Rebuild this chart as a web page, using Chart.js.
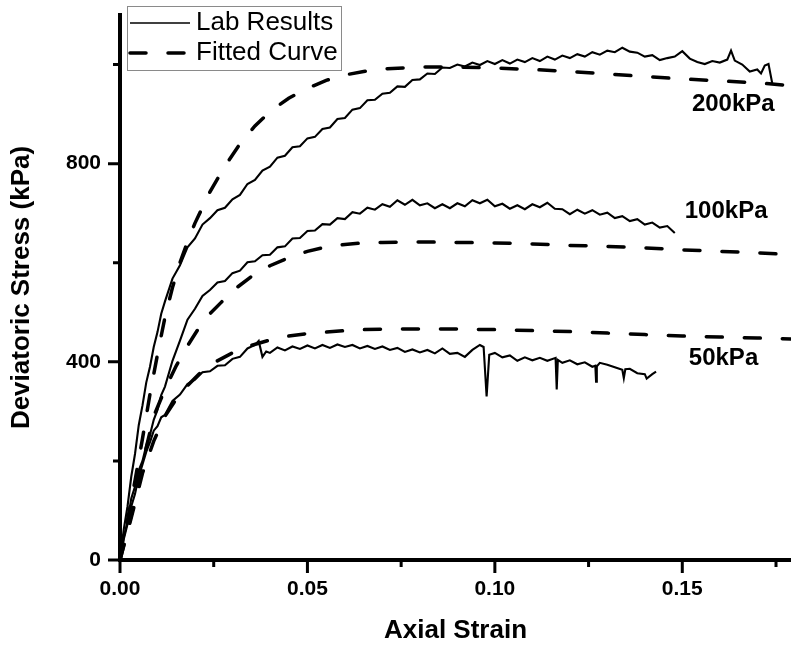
<!DOCTYPE html>
<html lang="en">
<head>
<meta charset="UTF-8">
<title>Deviatoric Stress vs Axial Strain</title>
<script src="https://cdn.jsdelivr.net/npm/chart.js"></script>
<style>
  html, body { margin: 0; padding: 0; background: #fff; }
  #wrap { width: 791px; height: 650px; }
</style>
</head>
<body>
<div id="wrap"><canvas id="chart" width="791" height="650"></canvas></div>
<script>
  // lab results, [axial strain, deviatoric stress kPa]
  const lab200 = [[0,0],[0.001,62],[0.002,108],[0.003,168],[0.004,214],[0.005,272],[0.006,312],[0.007,358],[0.008,390],[0.009,430],[0.010,460],[0.011,497],[0.012,522],[0.014,568],[0.016,595],[0.018,631],[0.020,649],[0.022,677],[0.024,690],[0.026,706],[0.028,711],[0.030,728],[0.032,737],[0.034,759],[0.036,767],[0.038,786],[0.040,794],[0.042,812],[0.044,816],[0.046,833],[0.048,835],[0.050,851],[0.052,854],[0.054,870],[0.056,873],[0.058,890],[0.060,892],[0.062,909],[0.064,912],[0.066,928],[0.068,929],[0.070,941],[0.072,943],[0.074,956],[0.076,955],[0.078,969],[0.080,970],[0.082,982],[0.084,981],[0.086,994],[0.088,993],[0.090,1000],[0.092,996],[0.094,1004],[0.096,999],[0.098,1007],[0.100,1001],[0.102,1009],[0.104,1002],[0.106,1010],[0.108,1005],[0.110,1013],[0.112,1007],[0.114,1016],[0.116,1010],[0.118,1018],[0.120,1013],[0.122,1021],[0.124,1016],[0.126,1025],[0.128,1020],[0.130,1028],[0.132,1025],[0.134,1034],[0.136,1026],[0.138,1024],[0.140,1016],[0.142,1019],[0.144,1009],[0.146,1013],[0.148,1016],[0.150,1027],[0.152,1012],[0.154,1005],[0.156,1001],[0.158,1007],[0.160,1004],[0.162,1010],[0.163,1028],[0.164,1008],[0.166,1000],[0.168,986],[0.170,990],[0.171,982],[0.172,998],[0.173,1001],[0.174,962]];
  const lab100 = [[0,0],[0.001,45],[0.002,78],[0.003,124],[0.004,148],[0.005,181],[0.006,200],[0.007,231],[0.008,253],[0.009,283],[0.010,303],[0.011,333],[0.012,350],[0.014,402],[0.016,443],[0.018,485],[0.020,507],[0.022,533],[0.024,545],[0.026,560],[0.028,563],[0.030,579],[0.032,584],[0.034,601],[0.036,603],[0.038,615],[0.040,616],[0.042,631],[0.044,633],[0.046,649],[0.048,650],[0.050,664],[0.052,665],[0.054,678],[0.056,677],[0.058,690],[0.060,688],[0.062,702],[0.064,699],[0.066,711],[0.068,707],[0.070,718],[0.072,713],[0.074,726],[0.076,717],[0.078,727],[0.080,716],[0.082,720],[0.084,710],[0.086,718],[0.088,710],[0.090,720],[0.092,714],[0.094,726],[0.096,720],[0.098,727],[0.100,714],[0.102,719],[0.104,709],[0.106,716],[0.108,708],[0.110,718],[0.112,712],[0.114,721],[0.116,709],[0.118,708],[0.120,698],[0.122,707],[0.124,699],[0.126,706],[0.128,697],[0.130,701],[0.132,690],[0.134,694],[0.136,684],[0.138,688],[0.140,677],[0.142,681],[0.144,671],[0.146,674],[0.148,660]];
  const lab50 = [[0,0],[0.001,42],[0.002,72],[0.003,108],[0.004,133],[0.005,168],[0.006,193],[0.007,218],[0.008,238],[0.009,261],[0.010,270],[0.011,288],[0.012,293],[0.014,321],[0.016,334],[0.018,355],[0.020,364],[0.022,379],[0.024,381],[0.026,392],[0.028,393],[0.030,406],[0.032,410],[0.034,427],[0.036,434],[0.037,442],[0.038,410],[0.039,421],[0.040,418],[0.042,429],[0.044,423],[0.046,431],[0.048,426],[0.050,433],[0.052,427],[0.054,434],[0.056,428],[0.058,435],[0.060,430],[0.062,434],[0.064,427],[0.066,432],[0.068,426],[0.070,431],[0.072,424],[0.074,428],[0.076,420],[0.078,425],[0.080,419],[0.082,424],[0.084,417],[0.086,427],[0.088,416],[0.090,418],[0.092,410],[0.094,424],[0.096,434],[0.097,430],[0.0978,330],[0.0985,414],[0.100,418],[0.102,409],[0.104,413],[0.106,402],[0.108,409],[0.110,403],[0.112,408],[0.114,402],[0.1162,408],[0.1165,344],[0.1168,404],[0.118,398],[0.120,403],[0.122,395],[0.124,399],[0.126,390],[0.1268,392],[0.127,360],[0.1272,391],[0.128,398],[0.130,394],[0.132,389],[0.134,384],[0.1344,367],[0.1348,385],[0.136,386],[0.138,377],[0.140,375],[0.1405,366],[0.142,375],[0.143,380]];

  // fitted curves
  const fit200 = [[0,0],[0.002,80],[0.004,160],[0.006,245],[0.008,335],[0.010,415],[0.012,490],[0.014,550],[0.016,600],[0.018,642],[0.020,680],[0.024,743],[0.028,795],[0.032,840],[0.036,876],[0.040,905],[0.045,932],[0.050,952],[0.055,968],[0.060,979],[0.065,986],[0.070,991],[0.080,995],[0.090,995],[0.100,993],[0.110,990],[0.120,986],[0.130,981],[0.140,976],[0.150,971],[0.160,967],[0.170,963],[0.180,957]];
  const fit100 = [[0,0],[0.003,90],[0.006,195],[0.009,290],[0.012,345],[0.015,392],[0.018,432],[0.021,468],[0.024,497],[0.027,520],[0.030,543],[0.035,572],[0.040,594],[0.045,610],[0.050,623],[0.055,632],[0.060,637],[0.065,640],[0.070,641],[0.080,642],[0.090,641],[0.100,640],[0.110,638],[0.120,635],[0.130,633],[0.140,630],[0.150,626],[0.160,623],[0.170,620],[0.180,616]];
  const fit50 = [[0,0],[0.003,85],[0.006,175],[0.009,240],[0.012,290],[0.015,325],[0.018,352],[0.021,375],[0.025,398],[0.030,418],[0.035,433],[0.040,444],[0.045,452],[0.050,457],[0.055,460],[0.060,463],[0.065,465],[0.070,466],[0.080,466],[0.090,466],[0.100,465],[0.110,463],[0.120,461],[0.130,458],[0.140,455],[0.150,452],[0.160,450],[0.170,448],[0.180,446]];

  const curveNames = ['200kPa', '100kPa', '50kPa'];
  const curveNamePos = [[0.1636, 920], [0.1617, 704], [0.161, 406]];
  const legendNames = ['Lab Results', 'Fitted Curve'];

  const xMajor = [0, 0.05, 0.10, 0.15];
  const xMinor = [0.025, 0.075, 0.125, 0.175];
  const yMajor = [0, 400, 800];
  const yMinor = [200, 600, 1000];

  const FONT = '"Liberation Sans", Arial, sans-serif';
  const toXY = arr => arr.map(p => ({ x: p[0], y: p[1] }));

  const labStyle = { borderColor: '#000', borderWidth: 2.1, pointRadius: 0, showLine: true, fill: false };
  const fitStyle = { borderColor: '#000', borderWidth: 3.5, borderDash: [16, 22], borderCapStyle: 'round', pointRadius: 0, showLine: true, fill: false };

  // ticks, curve names and the legend box
  const extras = {
    id: 'extras',
    afterDraw(chart) {
      const ctx = chart.ctx;
      const xs = chart.scales.x, ys = chart.scales.y;
      const left = chart.chartArea.left, bottom = chart.chartArea.bottom;
      ctx.save();
      ctx.strokeStyle = '#000';
      ctx.lineWidth = 3;
      ctx.beginPath();
      xMajor.forEach(v => { const p = xs.getPixelForValue(v); ctx.moveTo(p, bottom); ctx.lineTo(p, bottom + 13); });
      xMinor.forEach(v => { const p = xs.getPixelForValue(v); ctx.moveTo(p, bottom); ctx.lineTo(p, bottom + 7); });
      yMajor.forEach(v => { const p = ys.getPixelForValue(v); ctx.moveTo(left, p); ctx.lineTo(left - 12, p); });
      yMinor.forEach(v => { const p = ys.getPixelForValue(v); ctx.moveTo(left, p); ctx.lineTo(left - 7, p); });
      ctx.stroke();

      ctx.fillStyle = '#000';
      ctx.font = 'bold 24px ' + FONT;
      ctx.textAlign = 'center';
      ctx.textBaseline = 'middle';
      curveNames.forEach((t, i) => {
        ctx.fillText(t, xs.getPixelForValue(curveNamePos[i][0]), ys.getPixelForValue(curveNamePos[i][1]));
      });

      // legend
      ctx.fillStyle = '#fff';
      ctx.fillRect(127, 6, 214, 64);
      ctx.strokeStyle = '#8a8a8a';
      ctx.lineWidth = 1;
      ctx.strokeRect(127.5, 6.5, 214, 64);
      ctx.strokeStyle = '#000';
      ctx.lineWidth = 1.5;
      ctx.beginPath(); ctx.moveTo(130, 23); ctx.lineTo(190, 23); ctx.stroke();
      ctx.lineWidth = 3.5;
      ctx.lineCap = 'round';
      ctx.setLineDash([16, 22]);
      ctx.beginPath(); ctx.moveTo(130, 53); ctx.lineTo(190, 53); ctx.stroke();
      ctx.setLineDash([]);
      ctx.fillStyle = '#000';
      ctx.font = '26px ' + FONT;
      ctx.textAlign = 'left';
      ctx.fillText(legendNames[0], 196, 23);
      ctx.fillText(legendNames[1], 196, 53);
      ctx.restore();
    }
  };

  new Chart(document.getElementById('chart'), {
    type: 'scatter',
    data: {
      datasets: [
        Object.assign({ label: 'Lab 200kPa', data: toXY(lab200) }, labStyle),
        Object.assign({ label: 'Lab 100kPa', data: toXY(lab100) }, labStyle),
        Object.assign({ label: 'Lab 50kPa', data: toXY(lab50) }, labStyle),
        Object.assign({ label: 'Fit 200kPa', data: toXY(fit200) }, fitStyle),
        Object.assign({ label: 'Fit 100kPa', data: toXY(fit100) }, fitStyle),
        Object.assign({ label: 'Fit 50kPa', data: toXY(fit50) }, fitStyle)
      ]
    },
    options: {
      responsive: false,
      animation: false,
      layout: { padding: { top: 15, right: 0, left: 0, bottom: 0 } },
      plugins: { legend: { display: false }, tooltip: { enabled: false } },
      scales: {
        x: {
          type: 'linear',
          min: 0,
          max: 0.179,
          afterBuildTicks: s => { s.ticks = xMajor.map(v => ({ value: v })); },
          afterFit: s => { s.height = 90; s.paddingLeft = 0; s.paddingRight = 0; },
          grid: { display: false, drawTicks: false },
          border: { display: true, color: '#000', width: 4 },
          ticks: {
            color: '#000',
            padding: 17,
            font: { family: FONT, size: 21, weight: 'bold' },
            callback: v => v.toFixed(2)
          },
          title: {
            display: true,
            text: 'Axial Strain',
            color: '#000',
            font: { family: FONT, size: 26, weight: 'bold' },
            padding: { top: 0, bottom: 4 }
          }
        },
        y: {
          type: 'linear',
          min: 0,
          max: 1100,
          afterBuildTicks: s => { s.ticks = yMajor.map(v => ({ value: v })); },
          afterFit: s => { s.width = 120; s.paddingTop = 0; s.paddingBottom = 0; },
          grid: { display: false, drawTicks: false },
          border: { display: true, color: '#000', width: 4 },
          ticks: {
            color: '#000',
            padding: 19,
            font: { family: FONT, size: 21, weight: 'bold' },
            callback: v => String(v)
          },
          title: {
            display: true,
            text: 'Deviatoric Stress (kPa)',
            color: '#000',
            font: { family: FONT, size: 26, weight: 'bold' },
            padding: { top: 6, bottom: 0 }
          }
        }
      }
    },
    plugins: [extras]
  });
</script>
</body>
</html>
